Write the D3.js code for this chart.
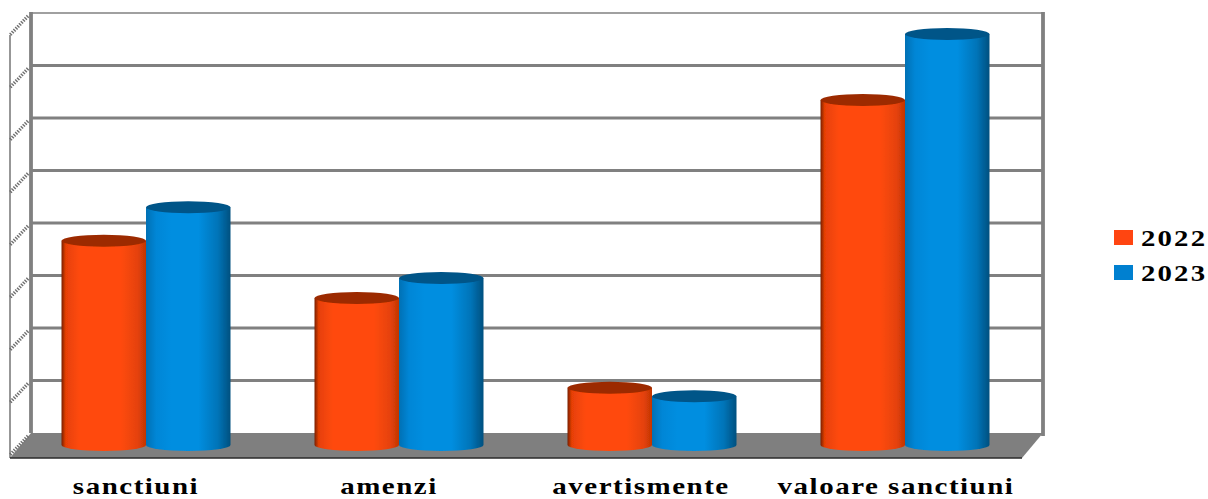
<!DOCTYPE html>
<html><head><meta charset="utf-8">
<script src="https://cdn.jsdelivr.net/npm/d3@7"></script>
<style>html,body{margin:0;padding:0;background:#fff;overflow:hidden}svg{display:block}</style>
</head><body><svg id="c" width="1208" height="499"></svg>
<script>
const categories = ["sanctiuni","amenzi","avertismente","valoare sanctiuni"];
const seriesNames = ["2022","2023"];
const values2022 = [3.89,2.8,1.09,6.57];
const values2023 = [4.53,3.18,0.93,7.83];
const gridTicks = [1,2,3,4,5,6,7,8];
const labelCentres = [136,389,641,896];
const gradStops = {"2022":[[0,"#7a2000"],[.05,"#e64006"],[.22,"#ff4a0c"],[.7,"#ff4a0c"],[.9,"#e54208"],[1,"#c23505"]],
                   "2023":[[0,"#0070b4"],[.12,"#0086d6"],[.3,"#008ee0"],[.62,"#008ee0"],[.85,"#0074b8"],[1,"#00507f"]]};
const capFill = {"2022":"#9c2a00","2023":"#005488"};
const swatchFill = {"2022":"#ff4511","2023":"#0080d0"};

const svg = d3.select("#c");
const defs = svg.append("defs");
defs.append("filter").attr("id","soft").attr("x","-2%").attr("y","-2%").attr("width","104%").attr("height","104%")
  .append("feGaussianBlur").attr("stdDeviation",0.55);
seriesNames.forEach(s=>{
  const g = defs.append("linearGradient").attr("id","g"+s);
  gradStops[s].forEach(d=>g.append("stop").attr("offset",d[0]).attr("stop-color",d[1]));
});
const root = svg.append("g").attr("filter","url(#soft)");

const y = d3.scaleLinear().domain([0,8]).range([433,13]);       // back wall
const yBar = d3.scaleLinear().domain([0,8]).range([445,25]);    // bar plane
const x0 = d3.scaleBand().domain(categories).range([19.5,1031.5]);
const barW = 84.5;
const x1 = d3.scaleBand().domain(seriesNames).range([x0.bandwidth()/2-barW, x0.bandwidth()/2+barW]);
const depth = {dx:-21,dy:25};
const left=31,right=1043,grey="#808080";

// side wall outline + floor
root.append("line").attr("x1",left+depth.dx).attr("x2",left+depth.dx).attr("y1",13+depth.dy-3).attr("y2",433+depth.dy)
  .attr("stroke","#8c8c8c").attr("stroke-width",1.8);
root.append("path").attr("d",`M${left},433 L${right},433 L${right+depth.dx},${433+depth.dy} L${left+depth.dx},${433+depth.dy} Z`)
  .attr("fill","#7f7f7f");
root.append("line").attr("x1",left+depth.dx).attr("x2",right+depth.dx).attr("y1",433+depth.dy).attr("y2",433+depth.dy)
  .attr("stroke","#2a2a2a").attr("stroke-width",1.6);

// back wall grid
root.append("g").selectAll("line").data(gridTicks).join("line")
  .attr("x1",left).attr("x2",right).attr("y1",d=>y(d)).attr("y2",d=>y(d))
  .attr("stroke",grey).attr("stroke-width",d=>d===8?1.6:2.8);
root.append("line").attr("x1",left).attr("x2",left).attr("y1",12).attr("y2",433).attr("stroke",grey).attr("stroke-width",3.8);
root.append("line").attr("x1",right).attr("x2",right).attr("y1",12).attr("y2",436).attr("stroke",grey).attr("stroke-width",3.8);

// side-wall diagonal ticks
root.append("g").selectAll("line").data([0,...gridTicks]).join("line")
  .attr("x1",left-3).attr("y1",d=>y(d)+3).attr("x2",left+depth.dx).attr("y2",d=>y(d)+depth.dy-3)
  .attr("stroke","#6f6f6f").attr("stroke-width",3.4).attr("stroke-dasharray","1.4 1.3");

// cylinders
const ry=6;
seriesNames.forEach((s,si)=>{
  const vals = si===0?values2022:values2023;
  const g = root.append("g");
  const recs = categories.map((c,i)=>({c,v:vals[i],xl:x0(c)+x1(s),w:x1.bandwidth()}));
  g.selectAll("path").data(recs).join("path")
    .attr("d",d=>{
      const yt=yBar(d.v), yb=yBar(0);
      return `M${d.xl},${yt} L${d.xl},${yb} A${d.w/2},${ry} 0 0 0 ${d.xl+d.w},${yb} L${d.xl+d.w},${yt} Z`;
    }).attr("fill",`url(#g${s})`);
  g.selectAll("ellipse").data(recs).join("ellipse")
    .attr("cx",d=>d.xl+d.w/2).attr("cy",d=>yBar(d.v)).attr("rx",d=>d.w/2).attr("ry",ry)
    .attr("fill",capFill[s]);
});

// category labels
svg.append("g").selectAll("text").data(categories).join("text")
  .attr("transform",(d,i)=>`translate(${labelCentres[i]},494) scale(1.26,1)`)
  .attr("text-anchor","middle")
  .attr("font-family","'Liberation Serif'").attr("font-weight","bold").attr("font-size",23)
  .attr("letter-spacing",1.2).attr("fill","#000").text(d=>d);

// legend
const lg = svg.append("g");
const ly = d3.scaleBand().domain(seriesNames).range([221,291]);
lg.selectAll("rect").data(seriesNames).join("rect")
  .attr("x",1114).attr("y",d=>ly(d)+9).attr("width",19).attr("height",15).attr("fill",d=>swatchFill[d]);
lg.selectAll("text").data(seriesNames).join("text")
  .attr("transform",d=>`translate(1141,${ly(d)+25}) scale(1.2,1)`)
  .attr("font-family","'Liberation Serif'").attr("font-weight","bold")
  .attr("font-size",24).attr("letter-spacing",1.8).attr("fill","#000").text(d=>d);
</script></body></html>
